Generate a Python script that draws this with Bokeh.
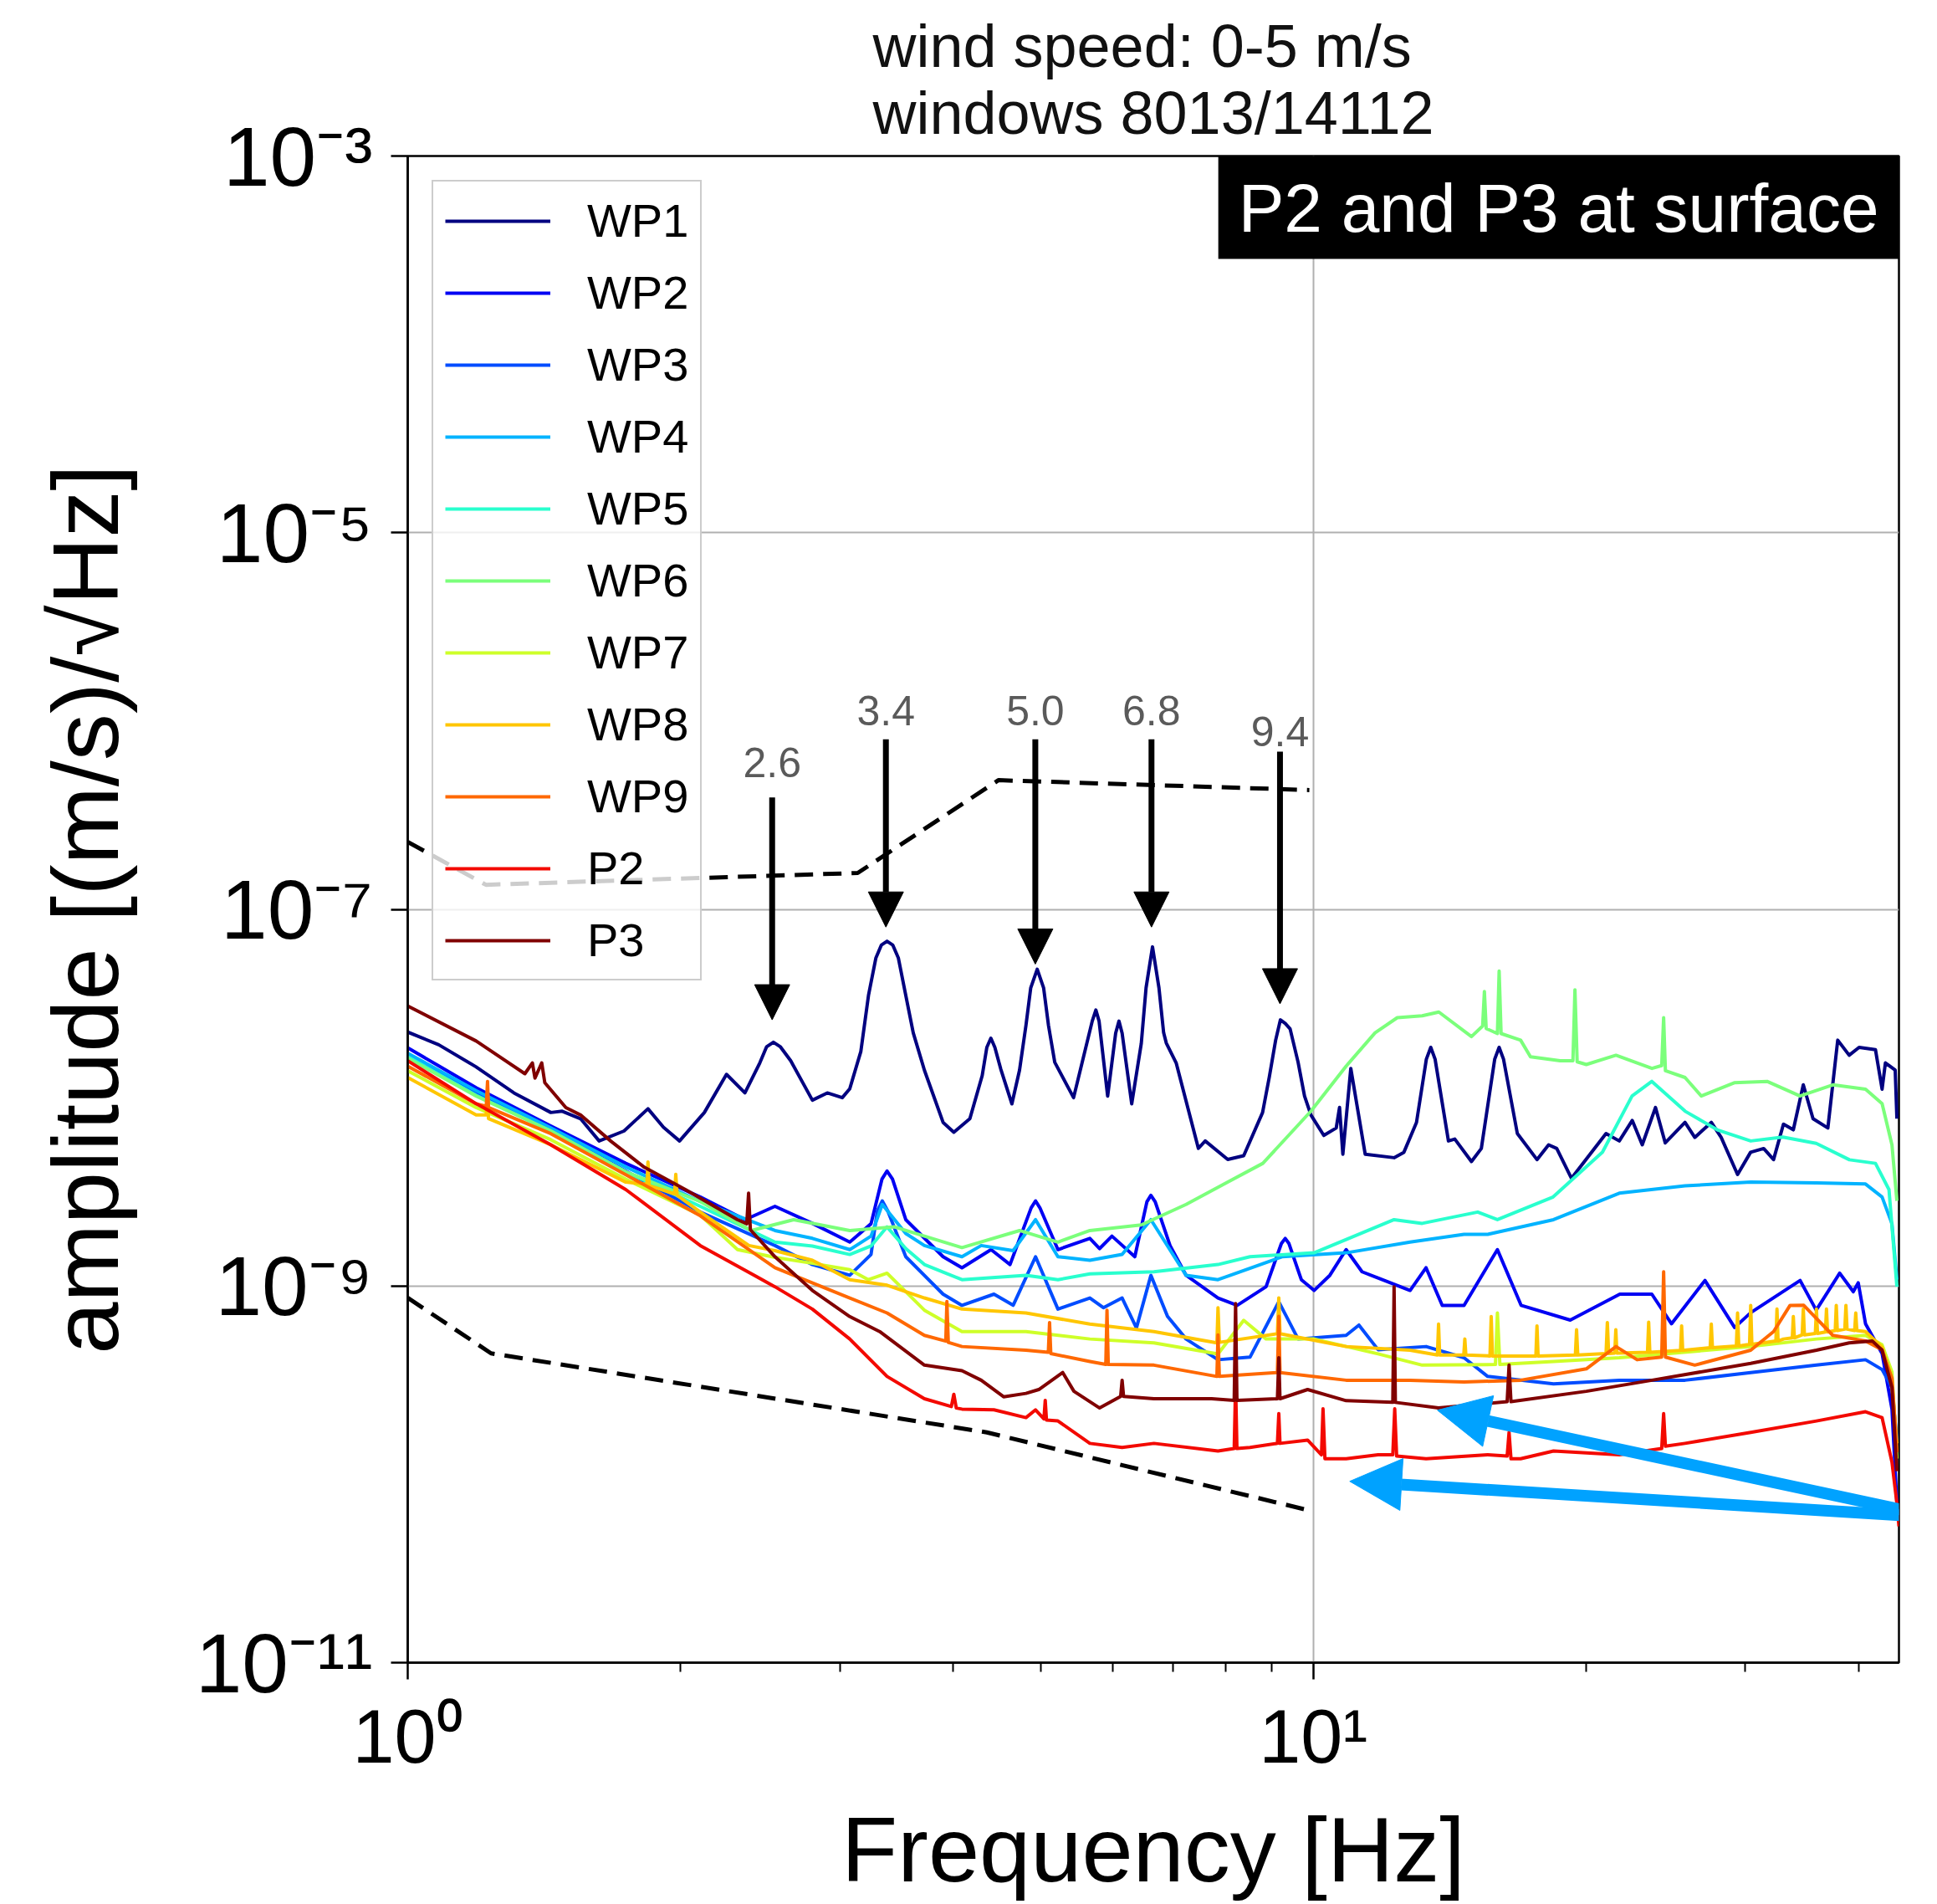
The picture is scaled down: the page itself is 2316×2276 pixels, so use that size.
import numpy as np
from bokeh.plotting import figure
from bokeh.models import (FixedTicker, Legend, LegendItem, Label, Arrow, NormalHead,
                          Range1d, ColumnDataSource)
from bokeh.embed import file_html
from bokeh.resources import INLINE
from bokeh.core.properties import value

FONT = "Liberation Sans"

# ---------------- data: (frequency [Hz], amplitude [(m/s)/sqrt(Hz)]) ----------------
title_lines = ["wind speed: 0-5 m/s", "windows 8013/14112"]
series_names = ["WP1", "WP2", "WP3", "WP4", "WP5", "WP6", "WP7", "WP8", "WP9", "P2", "P3"]
series_colors = ["#000080", "#0000f3", "#004cff", "#00b3ff", "#29ffce", "#7bff7b",
                 "#ceff29", "#ffc600", "#ff6800", "#f30900", "#800000"]

wp1 = [(1.0, 2.23e-8), (1.082, 1.91e-8), (1.189, 1.46e-8), (1.310, 1.06e-8), (1.439, 8.34e-9),
       (1.481, 8.47e-9), (1.552, 7.73e-9), (1.627, 5.89e-9), (1.733, 6.65e-9), (1.842, 8.73e-9),
       (1.916, 6.97e-9), (1.996, 5.89e-9), (2.126, 8.34e-9), (2.249, 1.33e-8), (2.357, 1.06e-8),
       (2.448, 1.53e-8), (2.49, 1.86e-8), (2.534, 1.97e-8), (2.58, 1.86e-8), (2.648, 1.57e-8),
       (2.798, 9.70e-9), (2.906, 1.06e-8), (3.019, 1.0e-8), (3.077, 1.115e-8), (3.165, 1.76e-8),
       (3.227, 3.49e-8), (3.288, 5.51e-8), (3.335, 6.47e-8), (3.383, 6.77e-8), (3.432, 6.47e-8),
       (3.482, 5.51e-8), (3.548, 3.49e-8), (3.616, 2.21e-8), (3.720, 1.40e-8), (3.901, 7.39e-9),
       (4.009, 6.55e-9), (4.176, 7.73e-9), (4.309, 1.31e-8), (4.36, 1.85e-8), (4.405, 2.07e-8),
       (4.45, 1.85e-8), (4.517, 1.42e-8), (4.647, 9.27e-9), (4.738, 1.40e-8), (4.816, 2.42e-8),
       (4.875, 3.83e-8), (4.956, 4.81e-8), (5.037, 3.83e-8), (5.100, 2.42e-8), (5.182, 1.54e-8),
       (5.436, 1.0e-8), (5.70, 2.55e-8), (5.753, 2.92e-8), (5.80, 2.55e-8), (5.928, 1.02e-8),
       (6.05, 2.2e-8), (6.101, 2.55e-8), (6.15, 2.2e-8), (6.302, 9.27e-9), (6.457, 1.94e-8),
       (6.536, 3.83e-8), (6.644, 6.32e-8), (6.754, 3.83e-8), (6.835, 2.21e-8), (6.881, 1.95e-8),
       (7.056, 1.53e-8), (7.466, 5.38e-9), (7.597, 5.89e-9), (8.045, 4.70e-9), (8.378, 4.92e-9),
       (8.79, 8.34e-9), (8.94, 1.28e-8), (9.087, 2.02e-8), (9.198, 2.59e-8), (9.311, 2.48e-8),
       (9.427, 2.32e-8), (9.621, 1.54e-8), (9.779, 1.02e-8), (9.94, 8.09e-9), (10.27, 6.30e-9),
       (10.60, 6.90e-9), (10.69, 8.87e-9), (10.78, 5.01e-9), (11.00, 1.43e-8), (11.41, 5.01e-9),
       (12.28, 4.80e-9), (12.59, 5.13e-9), (13.00, 7.39e-9), (13.33, 1.6e-8), (13.48, 1.85e-8),
       (13.63, 1.6e-8), (14.10, 5.89e-9), (14.33, 6.03e-9), (14.95, 4.58e-9), (15.33, 5.37e-9),
       (15.86, 1.6e-8), (16.04, 1.85e-8), (16.22, 1.6e-8), (16.80, 6.45e-9), (17.66, 4.69e-9),
       (18.19, 5.62e-9), (18.57, 5.37e-9), (19.28, 3.73e-9), (21.05, 6.45e-9), (21.77, 5.89e-9),
       (22.50, 7.57e-9), (23.08, 5.62e-9), (23.87, 8.87e-9), (24.47, 5.75e-9), (25.73, 7.39e-9),
       (26.38, 6.15e-9), (27.51, 7.39e-9), (28.21, 6.15e-9), (29.41, 3.91e-9), (30.40, 5.13e-9),
       (31.43, 5.37e-9), (32.23, 4.69e-9), (33.05, 7.23e-9), (33.89, 6.75e-9), (34.76, 1.17e-8),
       (35.63, 7.73e-9), (37.00, 6.90e-9), (37.94, 2.02e-8), (39.06, 1.68e-8), (40.06, 1.85e-8),
       (41.76, 1.80e-8), (42.47, 1.11e-8), (42.83, 1.53e-8), (43.91, 1.40e-8), (44.10, 7.73e-9)]

wp2 = [(1.0, 1.84e-8), (1.190, 1.13e-8), (1.439, 7.07e-9), (1.741, 4.48e-9), (2.104, 2.97e-9),
       (2.358, 2.25e-9), (2.544, 2.65e-9), (2.798, 2.15e-9), (3.077, 1.71e-9), (3.248, 2.14e-9),
       (3.34, 3.7e-9), (3.383, 4.08e-9), (3.43, 3.7e-9), (3.548, 2.25e-9), (3.901, 1.43e-9),
       (4.093, 1.25e-9), (4.407, 1.56e-9), (4.625, 1.30e-9), (4.88, 2.6e-9), (4.935, 2.83e-9),
       (4.99, 2.6e-9), (5.224, 1.56e-9), (5.666, 1.79e-9), (5.808, 1.58e-9), (5.993, 1.84e-9),
       (6.352, 1.43e-9), (6.55, 2.8e-9), (6.617, 3.03e-9), (6.69, 2.8e-9), (6.947, 1.64e-9),
       (7.236, 1.14e-9), (7.848, 8.64e-10), (8.241, 7.89e-10), (8.868, 9.91e-10), (9.22, 1.68e-9),
       (9.311, 1.79e-9), (9.40, 1.68e-9), (9.700, 1.08e-9), (10.02, 9.47e-10), (10.43, 1.14e-9),
       (10.87, 1.56e-9), (11.32, 1.19e-9), (12.79, 9.47e-10), (13.32, 1.25e-9), (13.88, 7.89e-10),
       (14.67, 7.89e-10), (15.97, 1.56e-9), (16.96, 7.90e-10), (19.22, 6.59e-10), (21.80, 9.05e-10),
       (23.65, 9.05e-10), (24.86, 6.30e-10), (27.07, 1.07e-9), (29.19, 6.02e-10), (30.41, 7.22e-10),
       (34.48, 1.07e-9), (35.92, 7.44e-10), (38.13, 1.17e-9), (39.47, 9.33e-10), (39.97, 1.04e-9),
       (40.72, 6.30e-10), (42.47, 4.38e-10), (43.55, 2.22e-10), (44.1, 7.04e-11)]

wp3 = [(1.0, 1.68e-8), (1.190, 1.06e-8), (1.439, 6.75e-9), (1.741, 4.08e-9), (2.104, 2.47e-9),
       (2.544, 1.64e-9), (2.798, 1.30e-9), (3.077, 1.14e-9), (3.248, 1.47e-9), (3.30, 2.5e-9),
       (3.342, 2.83e-9), (3.39, 2.5e-9), (3.548, 1.43e-9), (3.901, 9.05e-10), (4.093, 7.89e-10),
       (4.440, 9.05e-10), (4.662, 7.90e-10), (4.935, 1.43e-9), (5.224, 7.54e-10), (5.666, 8.64e-10),
       (5.864, 7.67e-10), (6.150, 8.64e-10), (6.378, 5.99e-10), (6.617, 1.14e-9), (6.902, 6.90e-10),
       (7.236, 5.23e-10), (7.848, 4.06e-10), (8.513, 4.19e-10), (9.160, 8.25e-10), (9.621, 5.23e-10),
       (10.87, 5.47e-10), (11.23, 6.20e-10), (11.79, 4.59e-10), (13.32, 4.77e-10), (14.67, 4.16e-10),
       (15.58, 3.31e-10), (18.42, 3.02e-10), (21.77, 3.16e-10), (25.73, 3.16e-10), (30.41, 3.47e-10),
       (35.94, 3.80e-10), (40.72, 4.06e-10), (42.47, 3.60e-10), (43.55, 2.89e-10), (44.1, 1.52e-10)]

wp4 = [(1.0, 1.72e-8), (1.190, 1.09e-8), (1.439, 6.91e-9), (1.741, 4.29e-9), (2.104, 2.81e-9),
       (2.544, 1.97e-9), (2.798, 1.79e-9), (3.077, 1.56e-9), (3.248, 1.84e-9), (3.342, 2.71e-9),
       (3.548, 1.90e-9), (3.720, 1.64e-9), (4.093, 1.43e-9), (4.298, 1.64e-9), (4.662, 1.54e-9),
       (4.935, 2.25e-9), (5.224, 1.43e-9), (5.666, 1.37e-9), (6.150, 1.47e-9), (6.617, 2.25e-9),
       (7.236, 1.14e-9), (7.848, 1.08e-9), (9.236, 1.43e-9), (10.87, 1.50e-9), (12.79, 1.71e-9),
       (14.67, 1.88e-9), (15.58, 1.88e-9), (18.42, 2.25e-9), (21.77, 3.11e-9), (25.73, 3.40e-9),
       (30.41, 3.56e-9), (35.94, 3.53e-9), (40.72, 3.48e-9), (42.47, 2.97e-9), (43.55, 2.14e-9),
       (44.1, 1.08e-9)]

wp5 = [(1.0, 1.65e-8), (1.190, 1.03e-8), (1.439, 6.65e-9), (1.741, 4.04e-9), (2.104, 2.65e-9),
       (2.544, 1.71e-9), (2.798, 1.63e-9), (3.077, 1.47e-9), (3.248, 1.63e-9), (3.383, 2.06e-9),
       (3.548, 1.58e-9), (3.720, 1.30e-9), (4.093, 1.08e-9), (4.816, 1.14e-9), (5.224, 1.08e-9),
       (5.666, 1.16e-9), (6.668, 1.19e-9), (7.848, 1.30e-9), (8.513, 1.43e-9), (10.02, 1.50e-9),
       (12.28, 2.25e-9), (13.19, 2.15e-9), (15.19, 2.47e-9), (15.97, 2.25e-9), (18.40, 2.97e-9),
       (20.86, 5.14e-9), (22.49, 1.02e-8), (23.65, 1.22e-8), (25.74, 8.47e-9), (27.93, 6.75e-9),
       (30.41, 5.89e-9), (33.00, 6.17e-9), (35.92, 5.72e-9), (39.09, 4.68e-9), (41.76, 4.48e-9),
       (43.22, 3.25e-9), (44.1, 9.91e-10)]

wp6 = [(1.0, 1.62e-8), (1.190, 1.02e-8), (1.439, 6.65e-9), (1.741, 4.04e-9), (2.104, 2.81e-9),
       (2.395, 1.97e-9), (2.668, 2.25e-9), (3.077, 1.97e-9), (3.448, 2.06e-9), (3.720, 1.84e-9),
       (4.093, 1.60e-9), (4.738, 1.97e-9), (5.224, 1.71e-9), (5.666, 1.97e-9), (6.457, 2.11e-9),
       (7.236, 2.71e-9), (8.045, 3.56e-9), (8.796, 4.48e-9), (9.94, 8.48e-9), (10.87, 1.47e-8),
       (11.70, 2.21e-8), (12.38, 2.66e-8), (13.19, 2.72e-8), (13.76, 2.85e-8), (14.95, 2.11e-8),
       (15.38, 2.40e-8), (15.45, 3.66e-8), (15.52, 2.33e-8), (15.97, 2.19e-8), (16.04, 4.70e-8),
       (16.12, 2.19e-8), (16.94, 2.02e-8), (17.37, 1.65e-8), (18.73, 1.57e-8), (19.35, 1.57e-8),
       (19.45, 3.74e-8), (19.56, 1.55e-8), (20.02, 1.50e-8), (21.59, 1.68e-8), (23.66, 1.43e-8),
       (24.25, 1.48e-8), (24.37, 2.66e-8), (24.48, 1.39e-8), (25.73, 1.28e-8), (26.82, 1.02e-8),
       (29.16, 1.20e-8), (31.70, 1.22e-8), (34.47, 1.02e-8), (37.47, 1.17e-8), (40.72, 1.11e-8),
       (42.47, 9.29e-9), (43.55, 5.62e-9), (44.1, 2.83e-9)]

wp7 = [(1.0, 1.39e-8), (1.190, 8.86e-9), (1.439, 5.98e-9), (1.741, 3.69e-9), (2.104, 2.38e-9),
       (2.313, 1.56e-9), (2.544, 1.42e-9), (2.798, 1.32e-9), (3.077, 1.22e-9), (3.226, 1.08e-9),
       (3.383, 1.17e-9), (3.720, 7.44e-10), (4.093, 5.73e-10), (4.816, 5.73e-10), (5.666, 5.23e-10),
       (6.668, 4.99e-10), (7.848, 4.36e-10), (8.378, 6.57e-10), (8.868, 5.23e-10), (10.02, 5.23e-10),
       (11.79, 4.36e-10), (13.19, 3.80e-10), (15.89, 3.83e-10), (15.97, 7.19e-10), (16.07, 3.83e-10),
       (18.42, 3.97e-10), (21.77, 4.16e-10), (30.41, 4.77e-10), (35.94, 5.23e-10), (40.72, 5.47e-10),
       (42.47, 4.87e-10), (43.55, 3.50e-10), (44.1, 1.21e-10)]

wp8 = [(1.0, 1.28e-8), (1.190, 8.09e-9), (1.221, 8.09e-9), (1.225, 1.09e-8), (1.228, 7.74e-9),
       (1.439, 5.62e-9), (1.741, 3.56e-9), (1.837, 3.47e-9), (1.842, 4.56e-9), (1.848, 3.42e-9),
       (1.971, 3.08e-9), (1.977, 3.92e-9), (1.984, 3.03e-9), (2.104, 2.47e-9), (2.381, 1.64e-9),
       (2.544, 1.54e-9), (2.798, 1.37e-9), (3.077, 1.08e-9), (3.383, 1.01e-9), (3.720, 8.64e-10),
       (4.093, 7.54e-10), (4.816, 7.19e-10), (5.666, 6.28e-10), (6.668, 5.73e-10), (7.826, 4.99e-10),
       (7.848, 7.67e-10), (7.875, 5.02e-10), (9.128, 5.58e-10), (9.160, 8.65e-10), (9.188, 5.58e-10),
       (10.87, 4.77e-10), (12.79, 4.56e-10), (13.71, 4.3e-10), (13.75, 6.28e-10), (13.79, 4.3e-10),
       (14.66, 4.3e-10), (14.70, 5.23e-10), (14.74, 4.3e-10), (15.67, 4.25e-10), (15.72, 6.88e-10),
       (15.77, 4.25e-10), (17.61, 4.25e-10), (17.66, 6.14e-10), (17.71, 4.25e-10), (19.47, 4.3e-10),
       (19.53, 5.86e-10), (19.59, 4.3e-10), (21.05, 4.38e-10), (21.12, 6.40e-10), (21.19, 4.38e-10),
       (21.52, 4.4e-10), (21.58, 5.86e-10), (21.64, 4.4e-10), (23.39, 4.45e-10), (23.46, 6.42e-10),
       (23.53, 4.45e-10), (25.44, 4.55e-10), (25.51, 6.14e-10), (25.58, 4.55e-10), (27.43, 4.7e-10),
       (27.51, 6.28e-10), (27.59, 4.7e-10), (29.32, 4.8e-10), (29.41, 7.19e-10), (29.50, 4.8e-10),
       (30.32, 4.9e-10), (30.41, 7.89e-10), (30.50, 4.9e-10), (32.42, 5.1e-10), (32.51, 7.54e-10),
       (32.60, 5.1e-10), (33.06, 5.23e-10), (33.80, 5.3e-10), (33.89, 6.88e-10), (33.98, 5.3e-10),
       (34.66, 5.5e-10), (34.76, 7.54e-10), (34.86, 5.5e-10), (35.84, 5.6e-10), (35.94, 7.54e-10),
       (36.04, 5.6e-10), (36.77, 5.7e-10), (36.87, 7.54e-10), (36.97, 5.7e-10), (37.70, 5.8e-10),
       (37.80, 7.89e-10), (37.90, 5.8e-10), (38.63, 5.9e-10), (38.74, 7.89e-10), (38.85, 5.9e-10),
       (39.61, 5.8e-10), (39.72, 7.19e-10), (39.83, 5.8e-10), (40.72, 5.73e-10), (42.47, 4.73e-10),
       (43.55, 3.00e-10), (44.1, 1.46e-10)]

wp9 = [(1.0, 1.47e-8), (1.190, 9.27e-9), (1.221, 9.0e-9), (1.225, 1.22e-8), (1.228, 8.86e-9),
       (1.439, 6.44e-9), (1.741, 3.90e-9), (2.104, 2.36e-9), (2.544, 1.25e-9), (3.077, 8.64e-10),
       (3.383, 7.19e-10), (3.720, 5.47e-10), (3.928, 5.10e-10), (3.939, 8.27e-10), (3.953, 5.02e-10),
       (4.093, 4.77e-10), (4.816, 4.56e-10), (5.098, 4.45e-10), (5.114, 6.40e-10), (5.130, 4.38e-10),
       (5.666, 3.97e-10), (5.900, 3.83e-10), (5.918, 7.44e-10), (5.937, 3.83e-10), (6.668, 3.80e-10),
       (7.826, 3.31e-10), (7.848, 5.50e-10), (7.875, 3.31e-10), (9.128, 3.47e-10), (9.160, 6.90e-10),
       (9.188, 3.47e-10), (10.87, 3.16e-10), (12.79, 3.16e-10), (14.67, 3.09e-10), (16.94, 3.16e-10),
       (20.02, 3.63e-10), (21.59, 4.77e-10), (22.78, 4.06e-10), (24.25, 4.19e-10), (24.37, 1.19e-9),
       (24.48, 4.19e-10), (26.38, 3.80e-10), (30.41, 4.56e-10), (32.23, 5.73e-10), (33.61, 7.89e-10),
       (34.80, 7.90e-10), (37.47, 5.47e-10), (40.72, 5.11e-10), (42.47, 4.59e-10), (43.55, 3.24e-10),
       (44.1, 1.31e-10)]

p2 = [(1.0, 1.57e-8), (1.190, 9.29e-9), (1.439, 5.62e-9), (1.741, 3.25e-9), (2.104, 1.64e-9),
      (2.544, 9.91e-10), (2.798, 7.54e-10), (3.077, 5.23e-10), (3.383, 3.31e-10), (3.720, 2.52e-10),
      (3.984, 2.29e-10), (4.009, 2.66e-10), (4.034, 2.25e-10), (4.093, 2.22e-10), (4.440, 2.20e-10),
      (4.816, 2.00e-10), (4.935, 2.20e-10), (5.041, 1.97e-10), (5.058, 2.47e-10), (5.074, 1.94e-10),
      (5.224, 1.92e-10), (5.666, 1.46e-10), (6.150, 1.39e-10), (6.668, 1.46e-10), (7.848, 1.33e-10),
      (8.178, 1.37e-10), (8.207, 3.02e-10), (8.235, 1.37e-10), (8.513, 1.39e-10), (9.128, 1.46e-10),
      (9.160, 2.10e-10), (9.188, 1.46e-10), (9.856, 1.52e-10), (10.21, 1.27e-10), (10.25, 2.23e-10),
      (10.30, 1.21e-10), (10.87, 1.21e-10), (11.79, 1.27e-10), (12.24, 1.27e-10), (12.30, 2.23e-10),
      (12.36, 1.25e-10), (13.32, 1.21e-10), (15.58, 1.27e-10), (16.37, 1.25e-10), (16.45, 1.67e-10),
      (16.53, 1.21e-10), (16.94, 1.21e-10), (18.42, 1.33e-10), (21.77, 1.27e-10), (24.25, 1.37e-10),
      (24.37, 2.10e-10), (24.48, 1.41e-10), (25.73, 1.46e-10), (30.41, 1.67e-10), (35.94, 1.92e-10),
      (40.72, 2.15e-10), (42.47, 2.00e-10), (43.55, 1.16e-10), (44.1, 7.01e-11), (44.33, 5.3e-11)]

p3 = [(1.0, 3.07e-8), (1.190, 2.00e-8), (1.347, 1.34e-8), (1.373, 1.53e-8), (1.382, 1.27e-8),
      (1.406, 1.53e-8), (1.417, 1.20e-8), (1.495, 8.86e-9), (1.552, 8.09e-9), (1.675, 5.89e-9),
      (1.825, 4.27e-9), (2.026, 3.25e-9), (2.313, 2.25e-9), (2.368, 2.14e-9), (2.379, 3.11e-9),
      (2.390, 1.99e-9), (2.544, 1.43e-9), (2.798, 9.47e-10), (3.077, 6.88e-10), (3.320, 5.73e-10),
      (3.720, 3.80e-10), (4.093, 3.55e-10), (4.298, 3.16e-10), (4.550, 2.58e-10), (4.816, 2.69e-10),
      (4.976, 2.82e-10), (5.288, 3.47e-10), (5.441, 2.76e-10), (5.808, 2.25e-10), (6.127, 2.59e-10),
      (6.150, 3.16e-10), (6.173, 2.59e-10), (6.668, 2.52e-10), (7.722, 2.52e-10), (8.178, 2.47e-10),
      (8.207, 8.07e-10), (8.235, 2.47e-10), (9.128, 2.52e-10), (9.160, 4.16e-10), (9.188, 2.52e-10),
      (9.856, 2.82e-10), (10.87, 2.46e-10), (12.24, 2.41e-10), (12.28, 9.91e-10), (12.32, 2.41e-10),
      (13.75, 2.25e-10), (16.37, 2.43e-10), (16.45, 3.80e-10), (16.53, 2.43e-10), (20.02, 2.76e-10),
      (23.66, 3.16e-10), (30.41, 3.88e-10), (35.94, 4.56e-10), (39.06, 4.99e-10), (41.42, 5.11e-10),
      (42.47, 4.56e-10), (43.55, 2.89e-10), (44.1, 1.04e-10)]

# dashed reference curves
upper_ref_f = [1.0, 1.22, 3.14, 4.49, 9.9]
upper_ref_a = [2.28e-7, 1.35e-7, 1.56e-7, 4.85e-7, 4.30e-7]
lower_ref_f = [1.0, 1.236, 4.36, 9.9]
lower_ref_a = [8.65e-10, 4.39e-10, 1.67e-10, 6.43e-11]

# resonance annotations
peak_labels = ["2.6", "3.4", "5.0", "6.8", "9.4"]
peak_f = [2.526, 3.373, 4.932, 6.627, 9.188]
peak_label_a = [6.0e-7, 1.13e-6, 1.13e-6, 1.13e-6, 8.75e-7]
peak_tail_a = [3.93e-7, 8.0e-7, 8.0e-7, 8.0e-7, 6.87e-7]
peak_tip_a = [2.59e-8, 8.05e-8, 5.12e-8, 8.05e-8, 3.15e-8]

# blue pointer arrows (towards the P2 and P3 curves)
pointer_tail_f = [48.9, 48.9]
pointer_tail_a = [5.9e-11, 5.9e-11]
pointer_tip_f = [10.97, 13.71]
pointer_tip_a = [9.18e-11, 2.19e-10]

series_data = [wp1, wp2, wp3, wp4, wp5, wp6, wp7, wp8, wp9, p2, p3]

# ---------------- figure ----------------
p = figure(width=2316, height=2276, x_axis_type="log", y_axis_type="log",
           x_range=Range1d(1.0, 44.33), y_range=Range1d(1e-11, 1e-3),
           output_backend="svg", toolbar_location=None,
           min_border_left=487, min_border_right=46, min_border_top=186, min_border_bottom=289,
           background_fill_color="white", border_fill_color="white")

p.title.text = "\n".join(title_lines)
p.title.align = "center"
p.title.text_font = FONT
p.title.text_font_size = "72px"
p.title.text_font_style = "normal"
p.title.text_color = "#111111"
p.title.standoff = 23

p.outline_line_color = "black"
p.outline_line_width = 2.5

for ax in (p.xaxis[0], p.yaxis[0]):
    ax.axis_line_color = "black"
    ax.axis_line_width = 2.5
    ax.major_tick_line_color = "black"
    ax.major_tick_line_width = 2.5
    ax.major_tick_in = 0
    ax.major_tick_out = 20
    ax.minor_tick_line_color = "black"
    ax.minor_tick_line_width = 2
    ax.minor_tick_in = 0
    ax.minor_tick_out = 11
    ax.major_label_text_font = FONT
    ax.major_label_text_color = "black"
    ax.axis_label_text_font = FONT
    ax.axis_label_text_font_style = "normal"
    ax.axis_label_text_color = "black"

p.xaxis.ticker = FixedTicker(ticks=[1, 10], minor_ticks=[2, 3, 4, 5, 6, 7, 8, 9, 20, 30, 40])
p.yaxis.ticker = FixedTicker(ticks=[1e-11, 1e-9, 1e-7, 1e-5, 1e-3], minor_ticks=[])
p.xaxis.major_label_overrides = {1: "10\u2070", 10: "10\u00b9"}
p.yaxis.major_label_overrides = {1e-3: "10\u207b\u00b3", 1e-5: "10\u207b\u2075", 1e-7: "10\u207b\u2077",
                                 1e-9: "10\u207b\u2079", 1e-11: "10\u207b\u00b9\u00b9"}
p.xaxis.major_label_text_font_size = "90px"
p.yaxis.major_label_text_font_size = "100px"
p.xaxis.major_label_standoff = 18
p.yaxis.major_label_standoff = 22
p.xaxis.axis_label = "Frequency [Hz]"
p.yaxis.axis_label = "amplitude [(m/s)/\u221aHz]"
p.xaxis.axis_label_text_font_size = "110px"
p.yaxis.axis_label_text_font_size = "112px"
p.xaxis.axis_label_standoff = 20
p.yaxis.axis_label_standoff = 66

p.xgrid.grid_line_color = "#b0b0b0"
p.ygrid.grid_line_color = "#b0b0b0"
p.xgrid.grid_line_width = 2
p.ygrid.grid_line_width = 2

# ---------------- curves ----------------
items = []
for name, color, pts in zip(series_names, series_colors, series_data):
    fx = [q[0] for q in pts]
    ay = [q[1] for q in pts]
    r = p.line(fx, ay, line_color=color, line_width=4, line_join="round")
    items.append(LegendItem(label=name, renderers=[r]))

p.line(upper_ref_f, upper_ref_a, line_color="black", line_width=5, line_dash="22 12")
p.line(lower_ref_f, lower_ref_a, line_color="black", line_width=5, line_dash="22 12")

# resonance arrows + labels
arrow_src = ColumnDataSource(dict(x0=peak_f, y0=peak_tail_a, x1=peak_f, y1=peak_tip_a))
p.add_layout(Arrow(end=NormalHead(size=42, fill_color="black", line_color="black", line_width=1),
                   source=arrow_src, x_start="x0", y_start="y0", x_end="x1", y_end="y1",
                   line_color="black", line_width=7))
p.text(x=peak_f, y=peak_label_a, text=peak_labels, text_align="center", text_baseline="middle",
       text_font=value(FONT), text_font_size="50px", text_color="#5a5a5a")

# blue pointer arrows
ptr_src = ColumnDataSource(dict(x0=pointer_tail_f, y0=pointer_tail_a, x1=pointer_tip_f, y1=pointer_tip_a))
p.add_layout(Arrow(end=NormalHead(size=62, fill_color="#00a2ff", line_color="#00a2ff", line_width=1),
                   source=ptr_src, x_start="x0", y_start="y0", x_end="x1", y_end="y1",
                   line_color="#00a2ff", line_width=14))

# legend
legend = Legend(items=items, location="top_left", margin=29, padding=14, spacing=21,
                glyph_width=126, glyph_height=56, label_height=56, label_standoff=44,
                label_text_font=FONT, label_text_font_size="56px", label_text_color="black",
                border_line_color="#cccccc", border_line_width=2, border_line_alpha=1.0,
                background_fill_color="white", background_fill_alpha=0.8)
p.add_layout(legend)

# black box label
p.add_layout(Label(x=44.33, y=1e-3, text="P2 and P3 at surface", text_align="right", text_baseline="top",
                   text_color="white", text_font=FONT, text_font_size="82px",
                   background_fill_color="black", background_fill_alpha=1.0, padding=(24, 16)))

open("out.html", "w").write(file_html(p, INLINE))
